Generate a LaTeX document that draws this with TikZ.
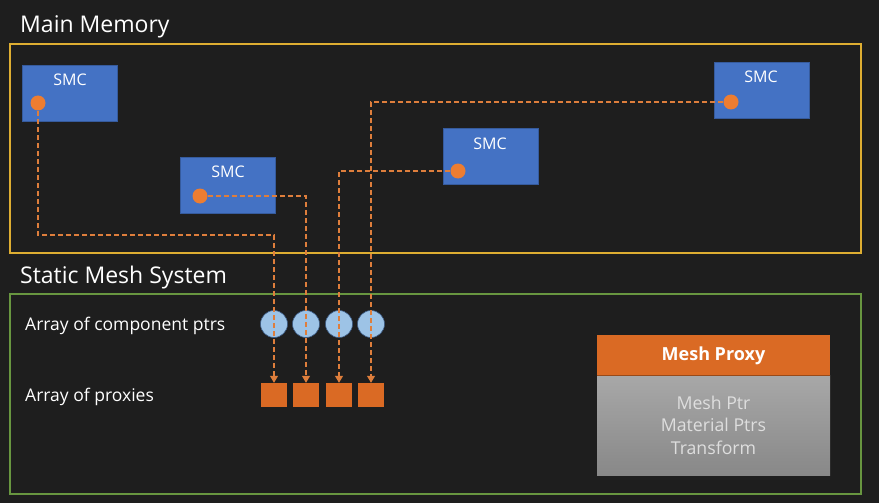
\documentclass[tikz,border=0pt]{standalone}
\usepackage{fontspec}
\setmainfont{Open Sans}
\usetikzlibrary{arrows.meta}
\definecolor{bg}{RGB}{30,30,30}
\definecolor{smcblue}{RGB}{68,114,196}
\definecolor{dotor}{RGB}{237,125,49}
\definecolor{lineor}{RGB}{222,126,60}
\definecolor{memyel}{RGB}{222,174,50}
\definecolor{sysgreen}{RGB}{104,150,64}
\definecolor{ptrblue}{RGB}{157,195,230}
\definecolor{ptredge}{RGB}{60,90,130}
\definecolor{proxor}{RGB}{218,106,36}
\definecolor{bodytxt}{RGB}{222,222,222}
\definecolor{bodytop}{RGB}{168,168,168}
\definecolor{bodybot}{RGB}{136,136,136}
\tikzset{
  smcbox/.style={draw=smcblue!80!black, line width=0.8pt, fill=smcblue, minimum width=95pt, minimum height=56pt, anchor=north west, inner sep=0pt},
  smclabel/.style={text=white, font=\fontsize{16}{18}\selectfont},
  smcdot/.style={circle, fill=dotor, minimum size=15pt, inner sep=0pt},
  ptr/.style={circle, fill=ptrblue, draw=ptredge, line width=0.6pt, minimum size=27pt, inner sep=0pt},
  proxy/.style={rectangle, fill=proxor, minimum width=26pt, minimum height=24pt, inner sep=0pt},
  link/.style={draw=lineor, line width=1.2pt, dash pattern=on 5pt off 3pt},
  linkarrow/.style={link, -{Triangle[width=8pt,length=7pt]}},
  title/.style={text=white, font=\fontsize{23}{26}\selectfont, anchor=west, inner sep=0pt},
  rowlabel/.style={text=white, font=\fontsize{17.5}{20}\selectfont, anchor=west, inner sep=0pt},
}
\begin{document}
\begin{tikzpicture}[x=1pt,y=-1pt]
\fill[bg] (0,0) rectangle (879,503);
\useasboundingbox (0,0) rectangle (879,503);

% titles and region boxes
\node[title] (tmain) at (20,27) {Main Memory};
\draw[memyel, line width=1.5pt] (10,44) rectangle (861,253);
\node[title] (tsys) at (20,278) {Static Mesh System};
\draw[sysgreen, line width=1.3pt] (10,294) rectangle (861,494);

% SMC boxes
\node[smcbox] (s1) at (22,65) {};
\node[smcbox] (s2) at (180,157) {};
\node[smcbox] (s3) at (443,128) {};
\node[smcbox] (s4) at (714,62) {};
\node[smclabel] (l1) at (70,80) {SMC};
\node[smclabel] (l2) at (228,172) {SMC};
\node[smclabel] (l3) at (490,144) {SMC};
\node[smclabel] (l4) at (761,77) {SMC};

% dot positions
\coordinate (d1) at (38,103);
\coordinate (d2) at (200,196);
\coordinate (d3) at (458,171);
\coordinate (d4) at (731,102);
\coordinate (k1) at (0,235);

% row labels
\node[rowlabel] (r1) at (25,326) {Array of component ptrs};
\node[rowlabel] (r2) at (25,397) {Array of proxies};

% pointer circles
\node[ptr] (c1) at (274,324) {};
\node[ptr] (c2) at (306,324) {};
\node[ptr] (c3) at (339,324) {};
\node[ptr] (c4) at (371,324) {};

% proxies
\node[proxy] (p1) at (274,395) {};
\node[proxy] (p2) at (306,395) {};
\node[proxy] (p3) at (339,395) {};
\node[proxy] (p4) at (371,395) {};

% connectors
\draw[linkarrow] (d1) |- (p1.north |- k1) -- (p1.north);
\draw[linkarrow] (d2) -| (p2.north);
\draw[linkarrow] (d3) -| (p3.north);
\draw[linkarrow] (d4) -| (p4.north);

% dots on top
\node[smcdot] (o1) at (d1) {};
\node[smcdot] (o2) at (d2) {};
\node[smcdot] (o3) at (d3) {};
\node[smcdot] (o4) at (d4) {};

% Mesh proxy card
\shade[top color=bodytop, bottom color=bodybot] (597,375) rectangle (830,475);
\fill[proxor] (597,335) rectangle (830,375);
\draw[proxor!70!black, line width=0.6pt] (597,375) -- (830,375);
\node[text=white, font=\fontsize{18}{20}\selectfont\bfseries] (mp) at (713.5,356) {Mesh Proxy};
\node[text=bodytxt, font=\fontsize{17.7}{22.5}\selectfont, align=center] (mb) at (713.5,425) {Mesh Ptr\\Material Ptrs\\Transform};
\end{tikzpicture}
\end{document}
